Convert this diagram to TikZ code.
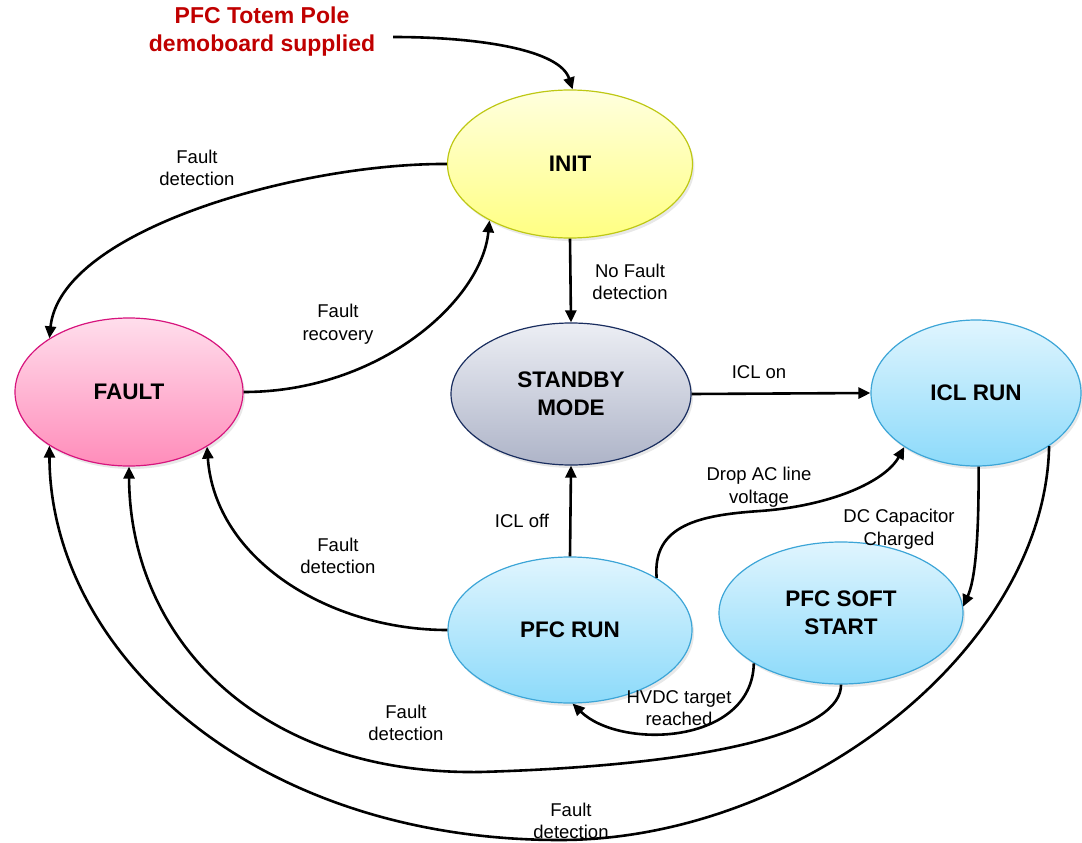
\documentclass[tikz,border=0pt]{standalone}
\usepackage{fontspec}
\setmainfont{Liberation Sans}
\usetikzlibrary{shapes.geometric,arrows.meta,shadows}
\definecolor{initTop}{RGB}{255,255,222}
\definecolor{initBot}{RGB}{255,255,130}
\definecolor{initBorder}{RGB}{190,200,20}
\definecolor{faultTop}{RGB}{255,222,236}
\definecolor{faultBot}{RGB}{255,140,186}
\definecolor{faultBorder}{RGB}{215,20,125}
\definecolor{sbTop}{RGB}{236,238,244}
\definecolor{sbBot}{RGB}{174,180,200}
\definecolor{sbBorder}{RGB}{25,45,95}
\definecolor{blueTop}{RGB}{224,245,254}
\definecolor{blueBot}{RGB}{140,218,250}
\definecolor{blueBorder}{RGB}{60,165,215}
\definecolor{titleRed}{RGB}{192,0,0}
\begin{document}
\begin{tikzpicture}[x=1pt,y=-1pt,
  state/.style={ellipse, inner sep=0pt, line width=1.2pt, align=center,
    font=\bfseries\fontsize{22.5}{28}\selectfont,
    drop shadow={opacity=0.18, shadow xshift=2pt, shadow yshift=-3pt}},
  yellowstate/.style={state, draw=initBorder, top color=initTop, bottom color=initBot},
  pinkstate/.style={state, draw=faultBorder, top color=faultTop, bottom color=faultBot},
  graystate/.style={state, draw=sbBorder, top color=sbTop, bottom color=sbBot},
  bluestate/.style={state, draw=blueBorder, top color=blueTop, bottom color=blueBot},
  lbl/.style={align=center, font=\fontsize{18.5}{22.5}\selectfont, inner sep=0pt},
  conn/.style={line width=2.6pt, -{Triangle[length=12pt,width=11pt]}}
]
\useasboundingbox (0,0) rectangle (1082,843);

% states
\node[yellowstate, minimum width=245pt, minimum height=148pt] (init) at (570,164) {INIT};
\node[pinkstate, minimum width=228pt, minimum height=148pt] (fault) at (129,392) {FAULT};
\node[graystate, minimum width=240pt, minimum height=142pt] (standby) at (571,394) {STANDBY\\MODE};
\node[bluestate, minimum width=210pt, minimum height=146pt] (icl) at (976,393) {ICL RUN};
\node[bluestate, minimum width=244pt, minimum height=146pt] (pfc) at (570,630) {PFC RUN};
\node[bluestate, minimum width=244pt, minimum height=142pt] (soft) at (841,613) {PFC SOFT\\START};

% title
\node[align=center, text=titleRed, font=\bfseries\fontsize{23}{28}\selectfont] (title) at (262,32) {PFC Totem Pole\\demoboard supplied};
\coordinate (ts) at (393,37);

% connectors
\draw[conn] (ts) .. controls (480,37) and (560,50) .. (init.88);
\draw[conn] (init.west) .. controls (300,163) and (60,230) .. (fault.146);
\draw[conn] (fault.east) .. controls (380,392) and (482,300) .. (init.215);
\draw[conn] (init.south) -- (standby.north);
\draw[conn] (standby.east) -- (icl.west);
\draw[conn] (pfc.north) -- (standby.south);
\draw[conn] (pfc.31) .. controls (652,525) and (700,515) .. (760,511)
                     .. controls (830,506) and (885,482) .. (icl.217);
\draw[conn] (icl.272) .. controls (979,540) and (975,580) .. (soft.3);
\draw[conn] (soft.210) .. controls (752,745) and (620,750) .. (pfc.272);
\draw[conn] (pfc.west) .. controls (330,630) and (215,560) .. (fault.325);
\draw[conn] (soft.south) .. controls (842,730) and (720,765) .. (480,772)
                         .. controls (260,775) and (130,640) .. (fault.south);
\draw[conn] (icl.324) .. controls (1045,650) and (800,840) .. (560,840)
                      .. controls (250,840) and (50,650) .. (fault.214);

% labels
\node[lbl] (l1) at (197,168) {Fault\\detection};
\node[lbl] (l2) at (338,324) {Fault\\recovery};
\node[lbl] (l3) at (630,282) {No Fault\\detection};
\node[lbl] (l4) at (759,372) {ICL on};
\node[lbl] (l5) at (522,521) {ICL off};
\node[lbl] (l6) at (759,487) {Drop AC line\\voltage};
\node[lbl] (l7) at (899,529) {DC Capacitor\\Charged};
\node[lbl] (l8) at (338,556) {Fault\\detection};
\node[lbl] (l9) at (679,708) {HVDC target\\reached};
\node[lbl] (l10) at (406,723) {Fault\\detection};
\node[lbl] (l11) at (571,821) {Fault\\detection};
\end{tikzpicture}
\end{document}
